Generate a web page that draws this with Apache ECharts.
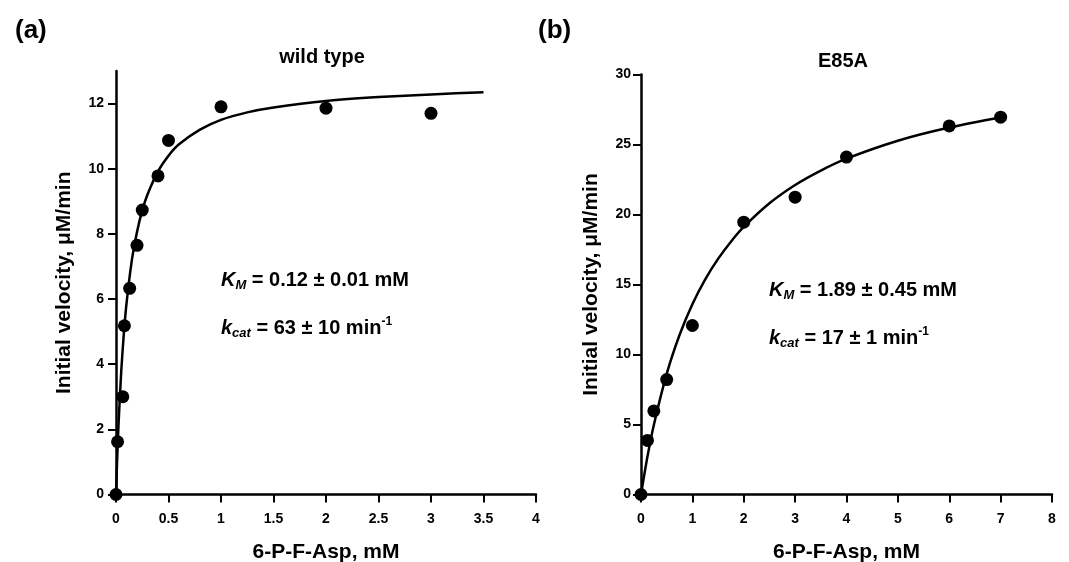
<!DOCTYPE html>
<html>
<head>
<meta charset="utf-8">
<title>Michaelis-Menten kinetics</title>
<script src="https://cdn.jsdelivr.net/npm/echarts@6/dist/echarts.min.js"></script>
<style>
  html, body { margin: 0; padding: 0; background: #fff; }
  #chart { width: 1069px; height: 562px; }
</style>
</head>
<body>
<div id="chart"></div>
<script>
// (a) wild type - measured points
const wtConc = [0, 0.015, 0.065, 0.08, 0.13, 0.2, 0.25, 0.4, 0.5, 1, 2, 3]
const wtRate = [0, 1.62, 3.0, 5.18, 6.33, 7.65, 8.73, 9.78, 10.87, 11.9, 11.86, 11.7]
// (a) fitted curve
const wtFitConc = [0, 0.01, 0.025, 0.05, 0.075, 0.1, 0.15, 0.2, 0.25, 0.3, 0.4, 0.5, 0.6, 0.8, 1, 1.25, 1.5, 2, 2.5, 3, 3.5]
const wtFitRate = [0, 0.99, 2.22, 3.79, 4.96, 5.86, 7.17, 8.06, 8.72, 9.21, 9.92, 10.4, 10.75, 11.2, 11.5, 11.73, 11.88, 12.08, 12.2, 12.28, 12.35]

// (b) E85A - measured points
const mutConc = [0, 0.125, 0.25, 0.5, 1, 2, 3, 4, 6, 7]
const mutRate = [0, 3.86, 5.97, 8.21, 12.07, 19.45, 21.24, 24.1, 26.33, 26.95]
// (b) fitted curve
const mutFitConc = [0, 0.125, 0.25, 0.5, 0.75, 1, 1.25, 1.5, 1.75, 2, 2.5, 3, 3.5, 4, 5, 6, 7]
const mutFitRate = [0, 2.69, 4.97, 8.61, 11.39, 13.59, 15.37, 16.83, 18.06, 19.11, 20.8, 22.11, 23.14, 23.99, 25.27, 26.21, 26.93]

// tick labels
const wtXTicks = [0, 0.5, 1, 1.5, 2, 2.5, 3, 3.5, 4]
const wtYTicks = [0, 2, 4, 6, 8, 10, 12]
const mutXTicks = [0, 1, 2, 3, 4, 5, 6, 7, 8]
const mutYTicks = [0, 5, 10, 15, 20, 25, 30]

const FONT = '"Liberation Sans", Arial, Helvetica, sans-serif'

function pairs(xs, ys) {
  return xs.map((x, i) => [x, ys[i]])
}

function xAxisCfg(gridIndex, max, ticks) {
  return {
    type: 'value',
    gridIndex: gridIndex,
    min: 0,
    max: max,
    name: '6-P-F-Asp, mM',
    nameLocation: 'middle',
    nameGap: 47,
    nameTextStyle: { color: '#000', fontFamily: FONT, fontWeight: 'bold', fontSize: 21 },
    axisLine: { show: true, onZero: false, lineStyle: { color: '#000', width: 2.5 } },
    axisTick: { show: true, customValues: ticks, length: 8, lineStyle: { color: '#000', width: 2 } },
    axisLabel: { customValues: ticks, color: '#000', fontFamily: FONT, fontWeight: 'bold', fontSize: 14, margin: 18 },
    splitLine: { show: false }
  }
}

function yAxisCfg(gridIndex, max, ticks, gap, margin) {
  return {
    type: 'value',
    gridIndex: gridIndex,
    min: 0,
    max: max,
    name: 'Initial velocity, μM/min',
    nameLocation: 'middle',
    nameGap: gap,
    nameTextStyle: { color: '#000', fontFamily: FONT, fontWeight: 'bold', fontSize: 21 },
    axisLine: { show: true, onZero: false, lineStyle: { color: '#000', width: 2.5 } },
    axisTick: { show: true, customValues: ticks, length: 8, lineStyle: { color: '#000', width: 2 } },
    axisLabel: { customValues: ticks, color: '#000', fontFamily: FONT, fontWeight: 'bold', fontSize: 14, margin: margin },
    splitLine: { show: false }
  }
}

// rich text styles for K_M / k_cat lines
const richStyles = {
  k: { fontFamily: FONT, fontWeight: 'bold', fontStyle: 'italic', fontSize: 20, lineHeight: 24, fill: '#000' },
  s: { fontFamily: FONT, fontWeight: 'bold', fontStyle: 'italic', fontSize: 13, lineHeight: 12, verticalAlign: 'bottom', fill: '#000' },
  n: { fontFamily: FONT, fontWeight: 'bold', fontSize: 20, lineHeight: 24, fill: '#000' },
  p: { fontFamily: FONT, fontWeight: 'bold', fontSize: 12, lineHeight: 12, verticalAlign: 'top', fill: '#000' }
}

function note(x, y, str) {
  return {
    type: 'text',
    left: x,
    top: y,
    style: { text: str, rich: richStyles }
  }
}

const chart = echarts.init(document.getElementById('chart'))

const option = {
  animation: false,
  backgroundColor: '#fff',
  title: [
    { text: 'wild type', left: 317, top: 42, textAlign: 'center',
      textStyle: { fontFamily: FONT, fontWeight: 'bold', fontSize: 20, color: '#000' } },
    { text: 'E85A', left: 838, top: 46, textAlign: 'center',
      textStyle: { fontFamily: FONT, fontWeight: 'bold', fontSize: 20, color: '#000' } },
    { text: '(a)', left: 10, top: 13,
      textStyle: { fontFamily: FONT, fontWeight: 'bold', fontSize: 26, color: '#000' } },
    { text: '(b)', left: 533, top: 13,
      textStyle: { fontFamily: FONT, fontWeight: 'bold', fontSize: 26, color: '#000' } }
  ],
  grid: [
    { left: 116, top: 71, width: 420, height: 423.5, outerBoundsMode: 'none', containLabel: false },
    { left: 641, top: 74.5, width: 411, height: 420, outerBoundsMode: 'none', containLabel: false }
  ],
  xAxis: [
    xAxisCfg(0, 4, wtXTicks),
    xAxisCfg(1, 8, mutXTicks)
  ],
  yAxis: [
    yAxisCfg(0, 13, wtYTicks, 41, 12),
    yAxisCfg(1, 30, mutYTicks, 39, 10)
  ],
  series: [
    {
      type: 'line',
      xAxisIndex: 0, yAxisIndex: 0,
      data: pairs(wtFitConc, wtFitRate),
      showSymbol: false,
      smooth: 0.2,
      lineStyle: { color: '#000', width: 2.5 },
      z: 2
    },
    {
      type: 'scatter',
      xAxisIndex: 0, yAxisIndex: 0,
      data: pairs(wtConc, wtRate),
      symbolSize: 13,
      itemStyle: { color: '#000', opacity: 1 },
      z: 3
    },
    {
      type: 'line',
      xAxisIndex: 1, yAxisIndex: 1,
      data: pairs(mutFitConc, mutFitRate),
      showSymbol: false,
      smooth: 0.3,
      lineStyle: { color: '#000', width: 2.5 },
      z: 2
    },
    {
      type: 'scatter',
      xAxisIndex: 1, yAxisIndex: 1,
      data: pairs(mutConc, mutRate),
      symbolSize: 13,
      itemStyle: { color: '#000', opacity: 1 },
      z: 3
    }
  ],
  graphic: [
    note(221, 270, '{k|K}{s|M}{n| = 0.12 ± 0.01 mM}'),
    note(221, 316, '{k|k}{s|cat}{n| = 63 ± 10 min}{p|-1}'),
    note(769, 280, '{k|K}{s|M}{n| = 1.89 ± 0.45 mM}'),
    note(769, 326, '{k|k}{s|cat}{n| = 17 ± 1 min}{p|-1}')
  ]
}

chart.setOption(option)
</script>
</body>
</html>
